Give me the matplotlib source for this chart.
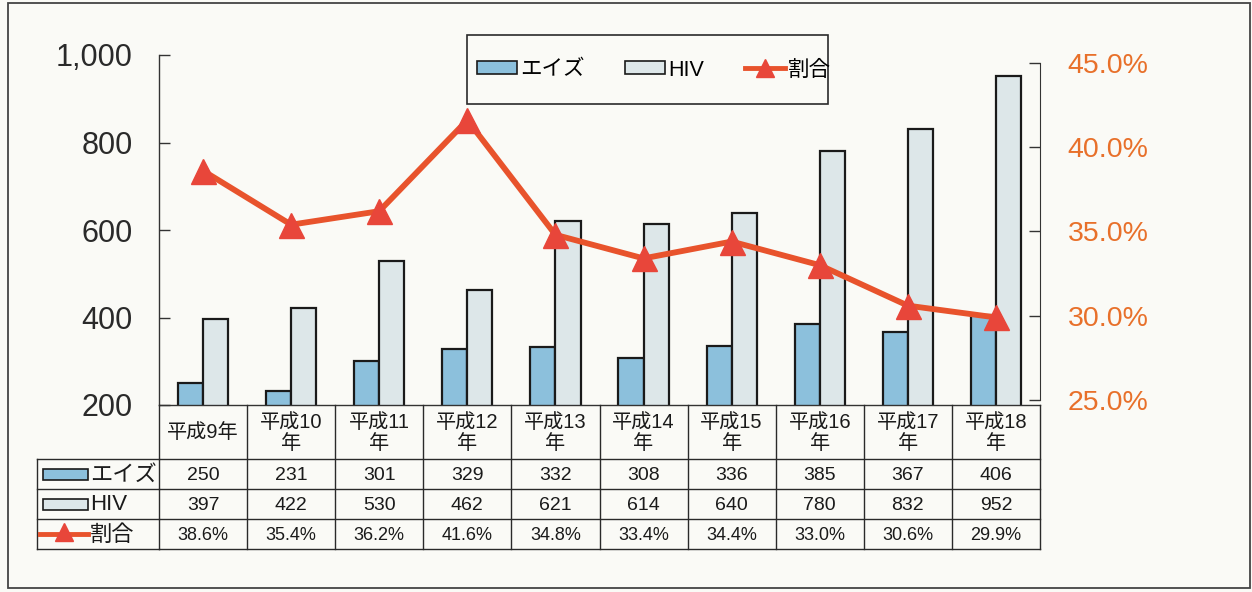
import matplotlib
matplotlib.use('Agg')
import matplotlib.pyplot as plt
from matplotlib.patches import Rectangle, Patch
from matplotlib.lines import Line2D
from matplotlib import transforms

# ---------------- data ----------------
categories = ['平成9年', '平成10\n年', '平成11\n年', '平成12\n年', '平成13\n年',
              '平成14\n年', '平成15\n年', '平成16\n年', '平成17\n年', '平成18\n年']
aids = [250, 231, 301, 329, 332, 308, 336, 385, 367, 406]
hiv = [397, 422, 530, 462, 621, 614, 640, 780, 832, 952]
ratio = [38.6, 35.4, 36.2, 41.6, 34.8, 33.4, 34.4, 33.0, 30.6, 29.9]
ratio_labels = ['38.6%', '35.4%', '36.2%', '41.6%', '34.8%',
                '33.4%', '34.4%', '33.0%', '30.6%', '29.9%']
series_names = ['エイズ', 'HIV', '割合']
left_ticks = [200, 400, 600, 800, 1000]
left_tick_labels = ['200', '400', '600', '800', '1,000']
right_ticks = [25, 30, 35, 40, 45]
right_tick_labels = ['25.0%', '30.0%', '35.0%', '40.0%', '45.0%']

# ---------------- style ----------------
plt.rcParams['font.family'] = ['Liberation Sans', 'Noto Sans CJK JP', 'DejaVu Sans']
BG = '#FAFAF6'
AIDS_C = '#8CC0DC'
HIV_C = '#DDE7E9'
LINE_C = '#E8532C'
MARK_C = '#E8463A'
RIGHT_C = '#E8702A'
EDGE = '#1a1a1a'
GRID_C = '#333333'

W, H = 1252, 592
fig = plt.figure(figsize=(W / 100, H / 100), dpi=100)
fig.patch.set_facecolor(BG)
pix = transforms.Affine2D().scale(1 / W, -1 / H).translate(0, 1) + fig.transFigure

ax_left, ax_right, ax_top, ax_bottom = 159, 1040, 55, 405
ax = fig.add_axes([ax_left / W, 1 - ax_bottom / H, (ax_right - ax_left) / W,
                   (ax_bottom - ax_top) / H])
ax.set_facecolor('none')

n = len(categories)
x = list(range(n))
bw = 0.285
ax.bar([i - bw / 2 for i in x], aids, bw, color=AIDS_C, edgecolor=EDGE, linewidth=1.6, zorder=2)
ax.bar([i + bw / 2 for i in x], hiv, bw, color=HIV_C, edgecolor=EDGE, linewidth=1.6, zorder=2)
ax.set_xlim(-0.5, n - 0.5)
ax.set_ylim(200, 1000)
ax.set_xticks([])
ax.set_yticks(left_ticks)
ax.set_yticklabels(left_tick_labels)
ax.tick_params(axis='y', direction='in', length=8, width=1, color=GRID_C,
               labelsize=22, pad=19, labelcolor='#2a2a2a')
for s in ['top', 'right']:
    ax.spines[s].set_visible(False)
for s in ['left', 'bottom']:
    ax.spines[s].set_color(GRID_C)
    ax.spines[s].set_linewidth(1)

ax2 = ax.twinx()
ax2.set_ylim(24.71, 45.46)
ax2.set_yticks(right_ticks)
ax2.set_yticklabels(right_tick_labels)
ax2.tick_params(axis='y', direction='in', length=8, width=1, color=GRID_C,
                labelsize=20.5, pad=20, labelcolor=RIGHT_C)
for s in ['top', 'left', 'bottom']:
    ax2.spines[s].set_visible(False)
ax2.spines['right'].set_bounds(25, 45)
ax2.spines['right'].set_color(GRID_C)
ax2.plot(x, ratio, color=LINE_C, lw=4.2, marker='^', markersize=18,
         markerfacecolor=MARK_C, markeredgecolor=MARK_C, clip_on=False, zorder=3)

# ---------------- data table ----------------
bt = transforms.blended_transform_factory(ax.transData, pix)
row_lines = [459, 489, 519, 549]
lab_left = 37
lc = '#2a2a2a'
for xe in [i - 0.5 for i in range(n + 1)]:
    fig.add_artist(Line2D([xe, xe], [ax_bottom, row_lines[-1]], transform=bt, color=lc, lw=1))
for yl in row_lines:
    fig.add_artist(Line2D([-0.5, n - 0.5], [yl, yl], transform=bt, color=lc, lw=1))
    fig.add_artist(Line2D([lab_left, ax_left], [yl, yl], transform=pix, color=lc, lw=1))
fig.add_artist(Line2D([lab_left, lab_left], [row_lines[0], row_lines[-1]], transform=pix, color=lc, lw=1))

for i, c in enumerate(categories):
    fig.text(i, 433, c, transform=bt, ha='center', va='center', fontsize=14.5,
             linespacing=1.1, color='#1a1a1a')
    fig.text(i, 475, str(aids[i]), transform=bt, ha='center', va='center', fontsize=14, color='#1a1a1a')
    fig.text(i, 505, str(hiv[i]), transform=bt, ha='center', va='center', fontsize=14, color='#1a1a1a')
    fig.text(i, 535, ratio_labels[i], transform=bt, ha='center', va='center', fontsize=13, color='#1a1a1a')

# row labels with swatches
fig.add_artist(Rectangle((43, 469), 45, 11, transform=pix, facecolor=AIDS_C, edgecolor=EDGE, lw=1.2))
fig.add_artist(Rectangle((43, 499), 45, 11, transform=pix, facecolor=HIV_C, edgecolor=EDGE, lw=1.2))
fig.add_artist(Line2D([40, 88], [534, 534], transform=pix, color=LINE_C, lw=3.5))
fig.add_artist(Line2D([64], [532], transform=pix, marker='^', markersize=13,
                      color=MARK_C, lw=0))
for yy, name in zip([475, 505, 535], series_names):
    fig.text(90, yy, name, transform=pix, ha='left', va='center', fontsize=16, color='#1a1a1a')

# ---------------- legend ----------------
fig.add_artist(Rectangle((467, 35), 361, 69, transform=pix, facecolor=BG, edgecolor='#2a2a2a', lw=1.2, zorder=4))
handles = [Patch(facecolor=AIDS_C, edgecolor=EDGE, lw=1.2),
           Patch(facecolor=HIV_C, edgecolor=EDGE, lw=1.2),
           Line2D([0], [0], color=LINE_C, lw=3.5, marker='^', markersize=13,
                  markerfacecolor=MARK_C, markeredgecolor=MARK_C)]
leg = fig.legend(handles, series_names, loc='center', bbox_to_anchor=(654 / W, 1 - 70 / H),
                 ncol=3, frameon=False, fontsize=15.5, handlelength=1.85, handleheight=0.55,
                 columnspacing=1.9, handletextpad=0.15)
leg.set_zorder(6)

# ---------------- outer frame ----------------
fig.add_artist(Rectangle((8, 3), 1242, 585, transform=pix, fill=False, edgecolor='#444444', lw=1.3))

fig.savefig('out.png', dpi=100, facecolor=BG)
